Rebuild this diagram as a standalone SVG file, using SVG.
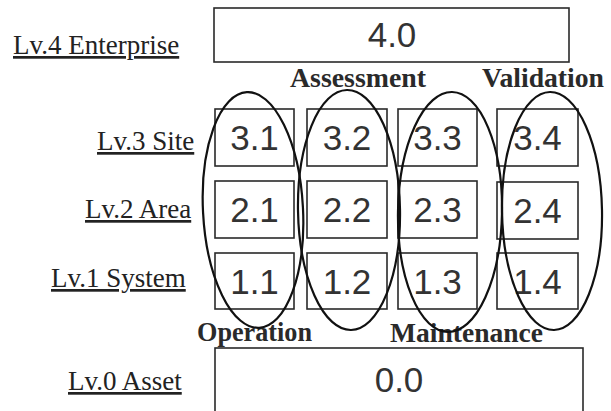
<svg xmlns="http://www.w3.org/2000/svg" width="611" height="411" viewBox="0 0 611 411">
<style>
.box{fill:none;stroke:#2a2a2a;stroke-width:1.6}
.ell{fill:none;stroke:#111;stroke-width:2.2}
.lv{font-family:"Liberation Serif","Times New Roman",serif;font-size:27px;fill:#222;text-decoration:underline}
.cat{font-family:"Liberation Serif","Times New Roman",serif;font-size:28px;font-weight:bold;fill:#2a2a2a}
.num{font-family:"Liberation Sans",Arial,sans-serif;font-size:35px;fill:#333;text-anchor:middle}
</style>
<rect width="611" height="411" fill="#fff"/>
<g id="labels">
<text class="lv" x="13" y="54">Lv.4 Enterprise</text>
<text class="lv" x="97" y="150">Lv.3 Site</text>
<text class="lv" x="85" y="218">Lv.2 Area</text>
<text class="lv" x="51" y="287">Lv.1 System</text>
<text class="lv" x="68" y="390">Lv.0 Asset</text>
<text class="cat" x="290" y="87" textLength="136" lengthAdjust="spacingAndGlyphs">Assessment</text>
<text class="cat" x="482" y="87" textLength="122" lengthAdjust="spacingAndGlyphs">Validation</text>
<text class="cat" x="197" y="341" textLength="115" lengthAdjust="spacingAndGlyphs">Operation</text>
<text class="cat" x="390" y="342" textLength="153" lengthAdjust="spacingAndGlyphs">Maintenance</text>
</g>
<g id="n40"><rect class="box" x="214" y="8" width="355" height="54"/><text class="num" x="392" y="47" font-size="31">4.0</text></g>
<g id="n31"><rect class="box" x="215" y="109" width="79" height="57"/><text class="num" x="254.5" y="150">3.1</text></g>
<g id="n32"><rect class="box" x="307" y="109" width="80" height="57"/><text class="num" x="347" y="150">3.2</text></g>
<g id="n33"><rect class="box" x="398" y="109" width="79" height="57"/><text class="num" x="437.5" y="150">3.3</text></g>
<g id="n34"><rect class="box" x="497" y="109" width="81" height="57"/><text class="num" x="537.5" y="150">3.4</text></g>
<g id="n21"><rect class="box" x="215" y="181" width="79" height="57"/><text class="num" x="254.5" y="222">2.1</text></g>
<g id="n22"><rect class="box" x="307" y="181" width="80" height="57"/><text class="num" x="347" y="222">2.2</text></g>
<g id="n23"><rect class="box" x="398" y="181" width="79" height="57"/><text class="num" x="437.5" y="222">2.3</text></g>
<g id="n24"><rect class="box" x="497" y="182" width="81" height="57"/><text class="num" x="537.5" y="223">2.4</text></g>
<g id="n11"><rect class="box" x="215" y="253" width="79" height="56"/><text class="num" x="254.5" y="294">1.1</text></g>
<g id="n12"><rect class="box" x="307" y="253" width="80" height="56"/><text class="num" x="347" y="294">1.2</text></g>
<g id="n13"><rect class="box" x="398" y="253" width="79" height="56"/><text class="num" x="437.5" y="294">1.3</text></g>
<g id="n14"><rect class="box" x="497" y="253" width="81" height="56"/><text class="num" x="537.5" y="294">1.4</text></g>
<g id="n00"><rect class="box" x="215" y="348" width="368" height="70"/><text class="num" x="399" y="392" font-size="34">0.0</text></g>
<g id="connectors">
<ellipse class="ell" cx="253" cy="210" rx="50" ry="118" transform="rotate(-3 253 210)"/>
<ellipse class="ell" cx="349" cy="210" rx="51" ry="120" transform="rotate(-1 349 210)"/>
<ellipse class="ell" cx="450" cy="212" rx="52" ry="120" transform="rotate(1 450 212)"/>
<ellipse class="ell" cx="552" cy="211" rx="50" ry="119" transform="rotate(-1 552 211)"/>
</g>
</svg>
